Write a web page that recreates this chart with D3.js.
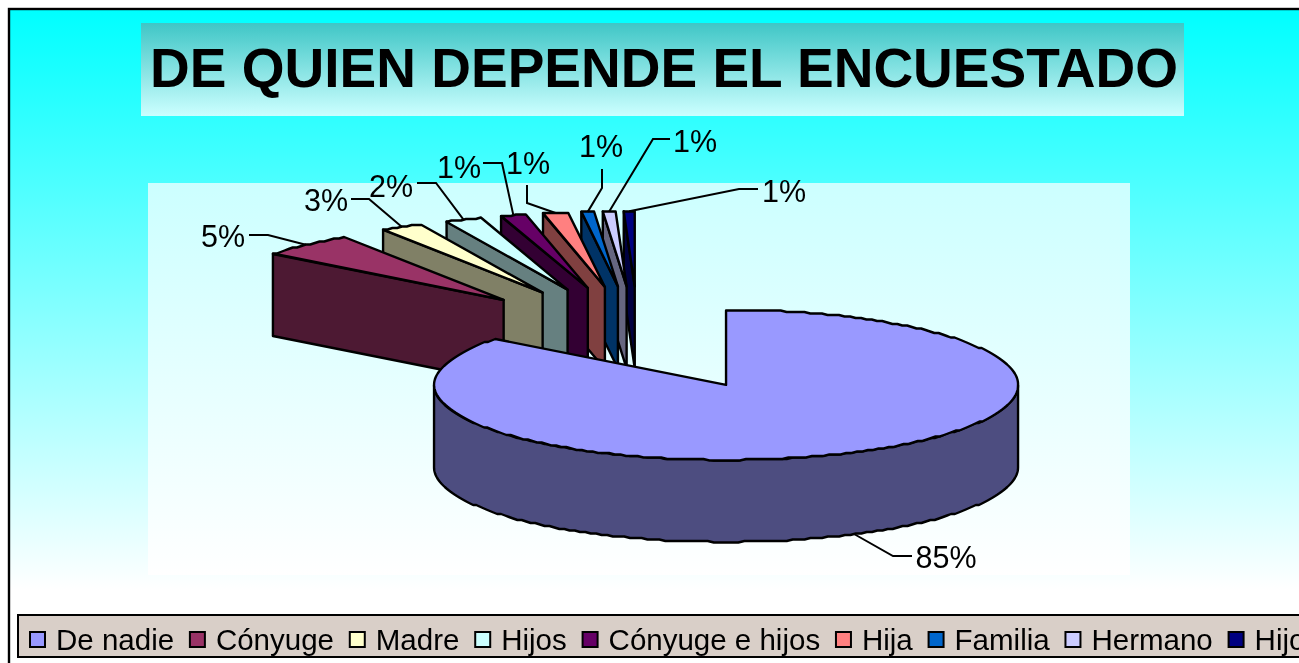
<!DOCTYPE html>
<html><head><meta charset="utf-8">
<script src="https://cdn.jsdelivr.net/npm/d3@7/dist/d3.min.js"></script>
<style>
html,body{margin:0;padding:0;background:#fff;overflow:hidden}
svg{display:block;filter:blur(0.35px)}
text{font-family:"Liberation Sans",Arial,sans-serif;fill:#000}
</style></head><body>
<svg id="c" width="1299" height="663"></svg>
<script>
// ---- data ----
const categories = ["De nadie","Cónyuge","Madre","Hijos","Cónyuge e hijos","Hija","Familia","Hermano","Hijo"];
const values     = [85.5, 5.3, 2.4, 2.0, 1.4, 1.4, 0.7, 0.7, 0.6];
const labels     = ["85%","5%","3%","2%","1%","1%","1%","1%","1%"];
const topColors  = ["#9999FF","#993366","#FFFFCC","#CCFFFF","#660066","#FF8080","#0066CC","#CCCCFF","#000080"];
const sideColors = ["#4D4D80","#4D1933","#808066","#668080","#330033","#804040","#003366","#666680","#000040"];
const titleText  = "DE QUIEN DEPENDE EL ENCUESTADO";

// ---- layout ----
const W = 1299, H = 663;
const pieCenter = {x:638.5, y:338.2}, rx = 292, ry = 75, depth = 82;
const explode = {x:199, y:52};
// label position (centre x, centre y) and leader elbow per slice
const labelPos = [[946,557],[223,236],[326,200],[391,186],[459,167],[528,163],[601,146],[695,141],[784,191]];
const leaderEnds = [
  [[893,556],[912,556]],
  [[268,235],[249,235]],
  [[369,199],[351,199]],
  [[436,183],[417,183]],
  [[502,163],[483,163]],
  [[527,203],[527,185]],
  [[602,188],[602,169]],
  [[653,139],[670,139]],
  [[739,189],[758,189]]
];

const svg = d3.select("#c");
const defs = svg.append("defs");
function grad(id, y1, y2, c1, c2){
  const g = defs.append("linearGradient").attr("id",id).attr("gradientUnits","userSpaceOnUse")
    .attr("x1",0).attr("x2",0).attr("y1",y1).attr("y2",y2);
  g.append("stop").attr("offset",0).attr("stop-color",c1);
  g.append("stop").attr("offset",1).attr("stop-color",c2);
}
grad("bg",10,590,"#00FFFF","#FFFFFF");
grad("plot",183,575,"#CCFFFF","#FFFFFF");
grad("ttl",23,116,"#3FC6C6","#CCFFFF");

// chart area + frame
svg.append("rect").attr("x",9).attr("y",9).attr("width",W+20).attr("height",H+20)
  .attr("fill","url(#bg)").attr("stroke","#000").attr("stroke-width",2.4);
svg.append("rect").attr("x",148).attr("y",183).attr("width",982).attr("height",392).attr("fill","url(#plot)");
svg.append("rect").attr("x",141).attr("y",23).attr("width",1043).attr("height",93).attr("fill","url(#ttl)");
svg.append("text").attr("x",664).attr("y",87).attr("text-anchor","middle")
  .attr("font-size",55).attr("font-weight","bold").text(titleText);

// pie
const arcs = d3.pie().sort(null).startAngle(0).endAngle(2*Math.PI)(values);
const line = d3.line();
const slices = arcs.map((a,i)=>{
  const mid = (a.startAngle+a.endAngle)/2;
  return {i,a0:a.startAngle,a1:a.endAngle,mid,
    cx:pieCenter.x+explode.x*Math.sin(mid),
    cy:pieCenter.y-explode.y*Math.cos(mid)};
});
const q = (v,s)=>Math.round(v/s)*s;
function rim(s,a0,a1,dy=0){
  const n = Math.max(2,Math.ceil(Math.abs(a1-a0)/(1.2*Math.PI/180)));
  return d3.range(n+1).map(k=>{
    const t = a0+(a1-a0)*k/n;
    return [s.cx+rx*Math.sin(t), q(s.cy-ry*Math.cos(t),1.5)+dy];
  });
}
function rimPoint(s,a,dy=0){ return [s.cx+rx*Math.sin(a), s.cy-ry*Math.cos(a)+dy]; }

const pieG = svg.append("g").attr("stroke","#000").attr("stroke-width",2.4).attr("stroke-linejoin","round");
slices.slice(1).reverse().forEach(s=>{
  const apex=[s.cx,s.cy], p=rimPoint(s,s.a0);
  pieG.append("path").attr("fill",sideColors[s.i])
    .attr("d",line([p,apex,[s.cx,s.cy+depth],[p[0],p[1]+depth]])+"Z");
  pieG.append("path").attr("fill",topColors[s.i])
    .attr("d",line([apex,...rim(s,s.a0,s.a1)])+"Z");
});
// main slice: outer wall then top
const m = slices[0];
const wallTop = rim(m,Math.PI/2,3*Math.PI/2);
const wallBot = rim(m,3*Math.PI/2,Math.PI/2,depth);
pieG.append("path").attr("fill",sideColors[0]).attr("d",line([...wallTop,...wallBot])+"Z");
pieG.append("path").attr("fill",topColors[0]).attr("d",line([[m.cx,m.cy],...rim(m,m.a0,m.a1)])+"Z");

// leaders and labels
const leadG = svg.append("g").attr("fill","none").attr("stroke","#000").attr("stroke-width",2);
slices.forEach(s=>{
  const anchor = s.i===0 ? rimPoint(s,s.mid,depth) : rimPoint(s,s.mid);
  leadG.append("path").attr("d",line([anchor,...leaderEnds[s.i]]));
  svg.append("text").attr("x",labelPos[s.i][0]).attr("y",labelPos[s.i][1]+10.5)
    .attr("text-anchor","middle").attr("font-size",30.5).text(labels[s.i]);
});

// legend
const lg = svg.append("g");
lg.append("rect").attr("x",18).attr("y",615).attr("width",W+20).attr("height",42)
  .attr("fill","#D9CFC8").attr("stroke","#000").attr("stroke-width",2);
let lx = 30;
categories.forEach((c,i)=>{
  lg.append("rect").attr("x",lx).attr("y",632).attr("width",15).attr("height",15)
    .attr("fill",topColors[i]).attr("stroke","#000").attr("stroke-width",2);
  const t = lg.append("text").attr("x",lx+26).attr("y",650).attr("font-size",29.5).text(c);
  lx += 26 + t.node().getComputedTextLength() + 15.8;
});
</script></body></html>
